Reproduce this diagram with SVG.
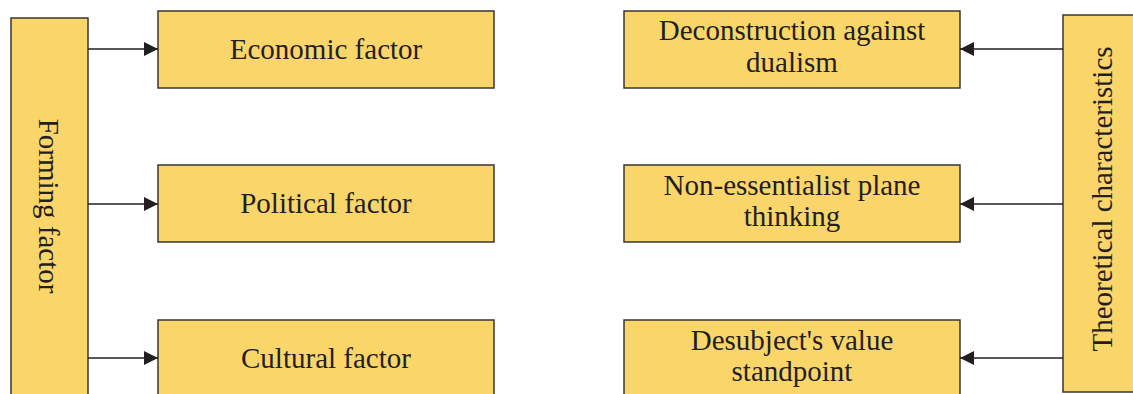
<svg xmlns="http://www.w3.org/2000/svg" width="1133" height="394" viewBox="0 0 1133 394">
  <style>
    .box { fill: #FAD56A; stroke: #3a3633; stroke-width: 1.5; }
    .lbl { font-family: "Liberation Serif", "Times New Roman", serif; font-size: 29px; fill: #231f20; text-anchor: middle; }
    .link { stroke: #231f20; stroke-width: 1.6; fill: none; }
  </style>
  <defs>
    <marker id="arrow" markerUnits="userSpaceOnUse" markerWidth="16" markerHeight="16" refX="14" refY="7" orient="auto">
      <path d="M0,0 L14,7 L0,14 Z" fill="#231f20"/>
    </marker>
  </defs>

  <rect width="1133" height="394" fill="#ffffff"/>

  <!-- left column: forming factors -->
  <g id="forming-factor">
    <rect class="box" x="11" y="18" width="77" height="390"/>
    <text class="lbl" transform="translate(39,206) rotate(90)">Forming factor</text>
  </g>
  <g id="economic-factor">
    <rect class="box" x="158" y="11" width="336" height="77"/>
    <text class="lbl" x="326" y="59">Economic factor</text>
  </g>
  <g id="political-factor">
    <rect class="box" x="158" y="165" width="336" height="77"/>
    <text class="lbl" x="326" y="213">Political factor</text>
  </g>
  <g id="cultural-factor">
    <rect class="box" x="158" y="320" width="336" height="77"/>
    <text class="lbl" x="326" y="368">Cultural factor</text>
  </g>

  <!-- right column: theoretical characteristics -->
  <g id="theoretical-characteristics">
    <rect class="box" x="1063" y="15" width="80" height="377"/>
    <text class="lbl" transform="translate(1112,199) rotate(-90)">Theoretical characteristics</text>
  </g>
  <g id="deconstruction">
    <rect class="box" x="624" y="11" width="336" height="77"/>
    <text class="lbl" x="792" y="40">Deconstruction against</text>
    <text class="lbl" x="792" y="72">dualism</text>
  </g>
  <g id="non-essentialist">
    <rect class="box" x="624" y="165" width="336" height="77"/>
    <text class="lbl" x="792" y="195">Non-essentialist plane</text>
    <text class="lbl" x="792" y="226">thinking</text>
  </g>
  <g id="desubject">
    <rect class="box" x="624" y="320" width="336" height="77"/>
    <text class="lbl" x="792" y="350">Desubject's value</text>
    <text class="lbl" x="792" y="381">standpoint</text>
  </g>

  <!-- connectors -->
  <g id="connectors">
    <line class="link" x1="88" y1="49" x2="158" y2="49" marker-end="url(#arrow)"/>
    <line class="link" x1="88" y1="204" x2="158" y2="204" marker-end="url(#arrow)"/>
    <line class="link" x1="88" y1="358" x2="158" y2="358" marker-end="url(#arrow)"/>
    <line class="link" x1="1063" y1="49" x2="960" y2="49" marker-end="url(#arrow)"/>
    <line class="link" x1="1063" y1="204" x2="960" y2="204" marker-end="url(#arrow)"/>
    <line class="link" x1="1063" y1="358" x2="960" y2="358" marker-end="url(#arrow)"/>
  </g>
</svg>
